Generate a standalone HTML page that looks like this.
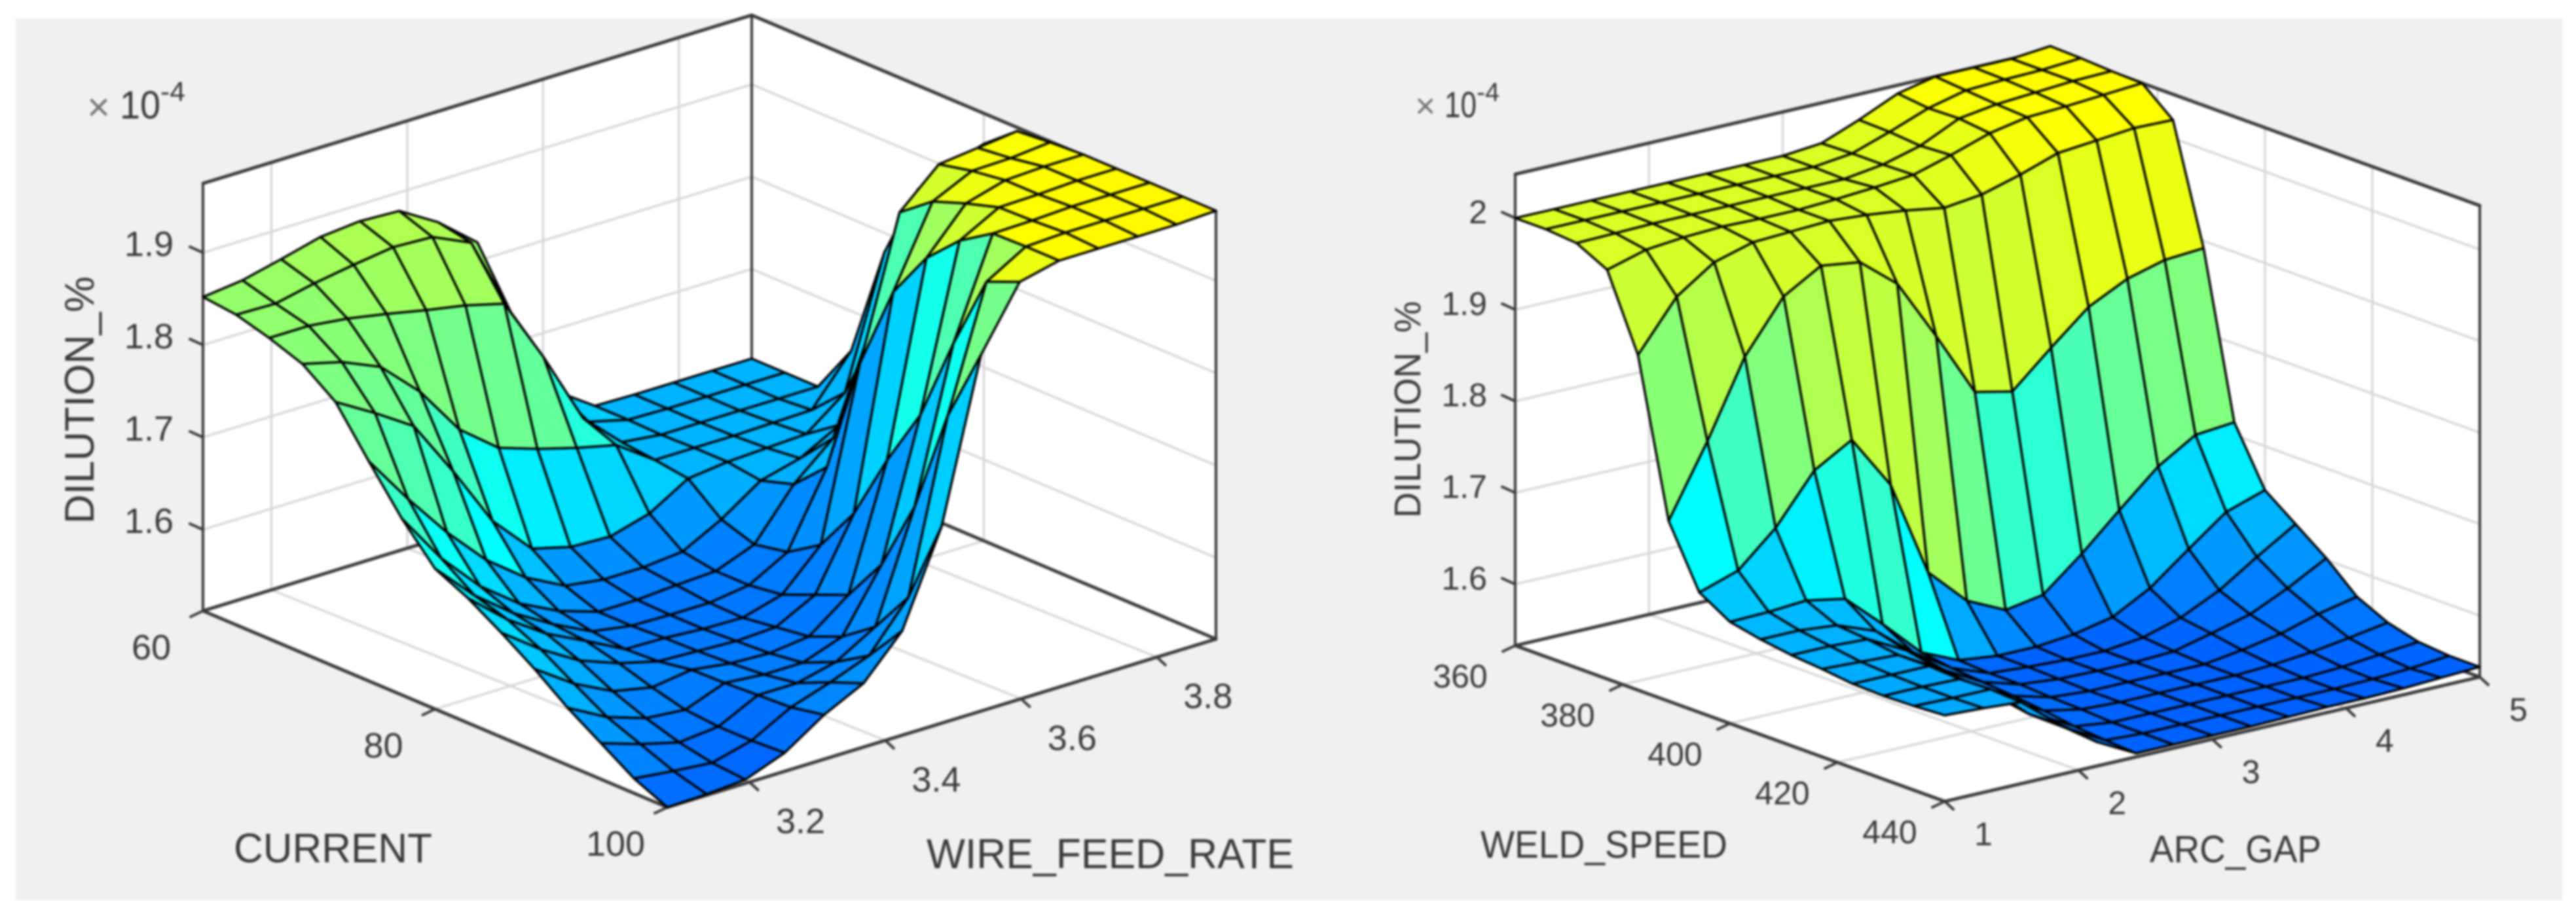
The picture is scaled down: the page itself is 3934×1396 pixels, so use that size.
<!DOCTYPE html>
<html lang="en">
<head>
<meta charset="utf-8">
<title>Dilution response surfaces</title>
<style>
html,body{margin:0;padding:0;background:#fff;width:3934px;height:1396px;overflow:hidden}
svg{display:block;filter:blur(1.5px)}
text{font-family:"Liberation Sans",sans-serif;fill:#3a3a3a}
</style>
</head>
<body>
<svg id="figure" xmlns="http://www.w3.org/2000/svg" width="3934" height="1396" viewBox="0 0 3934 1396">
  <rect x="24" y="28" width="3889" height="1347" fill="#f0f0f0"/>
  <g id="left-plot"></g>
  <g id="right-plot"></g>

  <text transform="translate(143 800) rotate(-90)" font-size="63" textLength="378" lengthAdjust="spacingAndGlyphs">DILUTION_%</text>
  <text x="357" y="1317" font-size="63" textLength="303" lengthAdjust="spacingAndGlyphs">CURRENT</text>
  <text x="1415" y="1326" font-size="64" textLength="561" lengthAdjust="spacingAndGlyphs">WIRE_FEED_RATE</text>
  <text x="133" y="184" font-size="60" style="fill:#777">×</text>
  <text x="183" y="181" font-size="60" textLength="62" lengthAdjust="spacingAndGlyphs">10</text>
  <text x="245" y="154" font-size="42" textLength="38" lengthAdjust="spacingAndGlyphs">-4</text>

  <text transform="translate(2169 791) rotate(-90)" font-size="57" textLength="331" lengthAdjust="spacingAndGlyphs">DILUTION_%</text>
  <text x="2261" y="1310" font-size="58" textLength="377" lengthAdjust="spacingAndGlyphs">WELD_SPEED</text>
  <text x="3283" y="1317" font-size="58" textLength="262" lengthAdjust="spacingAndGlyphs">ARC_GAP</text>
  <text x="2161" y="180" font-size="54" style="fill:#777">×</text>
  <text x="2206" y="179" font-size="56" textLength="49" lengthAdjust="spacingAndGlyphs">10</text>
  <text x="2255" y="154" font-size="40" textLength="35" lengthAdjust="spacingAndGlyphs">-4</text>
</svg>

<script>
/* ---------- left chart data ---------- */
const leftCurrentGrid = [60,62.86,65.71,68.57,71.43,74.29,77.14,80,82.86,85.71,88.57,91.43,94.29,97.14,100];
const leftWireGrid = [3.079,3.137,3.194,3.252,3.310,3.368,3.425,3.483,3.541,3.598,3.656,3.714,3.772,3.829,3.887];
const leftDilution = [
 [1.852,1.857,1.867,1.878,1.882,1.880,1.855,1.820,1.718,1.633,1.604,1.603,1.603,1.603,1.603],
 [1.848,1.847,1.856,1.863,1.869,1.867,1.848,1.760,1.668,1.615,1.604,1.603,1.603,1.603,1.603],
 [1.838,1.838,1.833,1.825,1.816,1.808,1.797,1.726,1.647,1.608,1.603,1.603,1.603,1.603,1.603],
 [1.825,1.814,1.796,1.756,1.702,1.669,1.655,1.643,1.633,1.604,1.604,1.604,1.605,1.606,1.657],
 [1.799,1.774,1.747,1.685,1.618,1.575,1.564,1.562,1.574,1.599,1.604,1.606,1.608,1.640,1.779],
 [1.750,1.696,1.647,1.604,1.572,1.550,1.544,1.544,1.548,1.570,1.599,1.610,1.633,1.725,1.862],
 [1.703,1.647,1.604,1.572,1.551,1.537,1.537,1.540,1.542,1.558,1.610,1.647,1.725,1.874,1.904],
 [1.664,1.622,1.590,1.565,1.544,1.537,1.536,1.536,1.542,1.565,1.644,1.768,1.886,1.920,1.942],
 [1.647,1.611,1.583,1.562,1.540,1.539,1.536,1.535,1.547,1.588,1.772,1.922,1.961,1.966,1.971],
 [1.625,1.594,1.569,1.553,1.542,1.540,1.538,1.540,1.562,1.637,1.864,1.949,1.969,1.970,1.974],
 [1.601,1.572,1.551,1.542,1.548,1.542,1.540,1.545,1.577,1.710,1.916,1.962,1.974,1.976,1.976],
 [1.574,1.551,1.537,1.533,1.549,1.545,1.545,1.560,1.625,1.774,1.950,1.973,1.974,1.976,1.976],
 [1.551,1.537,1.526,1.530,1.551,1.551,1.561,1.586,1.703,1.867,1.973,1.974,1.976,1.976,1.976],
 [1.528,1.523,1.519,1.530,1.553,1.567,1.583,1.633,1.817,1.949,1.974,1.976,1.976,1.976,1.976],
 [1.512,1.513,1.516,1.532,1.560,1.581,1.625,1.725,1.898,1.964,1.974,1.974,1.974,1.974,1.976]
];
const leftZTicks = [1.6,1.7,1.8,1.9];
const leftZLabels = ["1.6","1.7","1.8","1.9"];
const leftCurrentTicks = [60,80,100];
const leftCurrentLabels = ["60","80","100"];
const leftWireTicks = [3.2,3.4,3.6,3.8];
const leftWireLabels = ["3.2","3.4","3.6","3.8"];

/* ---------- right chart data ---------- */
const rightWeldGrid = [360,365.71,371.43,377.14,382.86,388.57,394.29,400,405.71,411.43,417.14,422.86,428.57,434.29,440];
const rightGapGrid = [1,1.29,1.57,1.86,2.14,2.43,2.71,3,3.29,3.57,3.86,4.14,4.43,4.71,5];
const rightDilution = [
 [2.000,2.000,2.000,2.000,2.000,2.000,2.000,2.000,2.004,2.020,2.039,2.048,2.048,2.048,2.052],
 [2.000,2.000,2.000,2.000,2.000,2.000,2.000,2.000,2.005,2.019,2.035,2.045,2.047,2.048,2.051],
 [1.997,1.998,1.999,1.999,1.999,1.999,1.999,1.999,2.005,2.016,2.036,2.042,2.045,2.048,2.049],
 [1.980,1.992,1.996,1.998,1.997,1.997,1.999,2.002,2.006,2.018,2.032,2.040,2.042,2.045,2.048],
 [1.899,1.953,1.981,1.993,1.995,1.997,1.994,1.989,1.982,1.987,1.999,2.013,2.017,2.021,2.020],
 [1.730,1.807,1.890,1.946,1.970,1.964,1.931,1.864,1.793,1.784,1.822,1.857,1.878,1.889,1.892],
 [1.664,1.678,1.715,1.768,1.792,1.733,1.628,1.587,1.567,1.574,1.609,1.647,1.685,1.710,1.714],
 [1.644,1.645,1.648,1.640,1.603,1.562,1.544,1.539,1.539,1.543,1.552,1.574,1.607,1.638,1.652],
 [1.637,1.637,1.633,1.617,1.584,1.557,1.542,1.539,1.537,1.537,1.542,1.554,1.574,1.601,1.627],
 [1.632,1.632,1.630,1.608,1.577,1.554,1.542,1.538,1.537,1.537,1.539,1.549,1.560,1.579,1.602],
 [1.629,1.627,1.625,1.601,1.572,1.551,1.540,1.537,1.537,1.537,1.537,1.543,1.551,1.563,1.572],
 [1.625,1.625,1.625,1.595,1.569,1.547,1.539,1.537,1.537,1.537,1.537,1.539,1.543,1.549,1.556],
 [1.624,1.624,1.623,1.593,1.565,1.542,1.537,1.537,1.537,1.537,1.537,1.537,1.539,1.543,1.547],
 [1.625,1.624,1.624,1.587,1.562,1.539,1.537,1.537,1.537,1.537,1.537,1.537,1.538,1.540,1.544],
 [1.627,1.625,1.622,1.588,1.559,1.537,1.537,1.537,1.537,1.538,1.539,1.539,1.540,1.542,1.544]
];
const rightZTicks = [1.6,1.7,1.8,1.9,2];
const rightZLabels = ["1.6","1.7","1.8","1.9","2"];
const rightWeldTicks = [360,380,400,420,440];
const rightWeldLabels = ["360","380","400","420","440"];
const rightGapTicks = [1,2,3,4,5];
const rightGapLabels = ["1","2","3","4","5"];

const SVGNS = "http://www.w3.org/2000/svg";

function jetColour(t){
  const c = v => Math.round(255*Math.max(0,Math.min(1,v)));
  const r = c(Math.min(4*t-1.5,-4*t+4.5));
  const g = c(Math.min(4*t-0.5,-4*t+3.5));
  const b = c(Math.min(4*t+0.5,-4*t+2.5));
  return "rgb("+r+","+g+","+b+")";
}

function drawPlot(root, prefix, cfg){
  /* axis functions: data -> fractions -> page pixels */
  const tx = v => (v-cfg.xMin)/(cfg.xMax-cfg.xMin);
  const ty = v => (v-cfg.yMin)/(cfg.yMax-cfg.yMin);
  const project = (fx, fy, z) => [
    cfg.A[0]+fx*(cfg.D[0]-cfg.A[0])+fy*(cfg.B[0]-cfg.A[0]),
    cfg.A[1]+fx*(cfg.D[1]-cfg.A[1])+fy*(cfg.B[1]-cfg.A[1])-(z-cfg.zFloor)*cfg.zScale
  ];
  const line = (p,q,stroke,width,name) => {
    const l = document.createElementNS(SVGNS,"line");
    l.setAttribute("x1",p[0]); l.setAttribute("y1",p[1]);
    l.setAttribute("x2",q[0]); l.setAttribute("y2",q[1]);
    l.setAttribute("stroke",stroke);
    l.setAttribute("stroke-width",width);
    l.setAttribute("stroke-linecap","round");
    
    
    root.appendChild(l);
  };
  const label = (str,x,y,anchor,name) => {
    const t = document.createElementNS(SVGNS,"text");
    t.setAttribute("x",x); t.setAttribute("y",y);
    t.setAttribute("text-anchor",anchor);
    t.setAttribute("font-size",cfg.tickFont);
    
    
    t.textContent = str;
    root.appendChild(t);
  };
  /* white walls and floor */
  const wall = (pts,name) => {
    const w = document.createElementNS(SVGNS,"polygon");
    w.setAttribute("points",pts.map(p=>p.join(",")).join(" "));
    w.setAttribute("fill","#ffffff");
    
    
    root.appendChild(w);
  };
  const zf=cfg.zFloor, zt=cfg.zTop;
  wall([project(0,0,zf),project(0,1,zf),project(0,1,zt),project(0,0,zt)],prefix+"-left-wall");
  wall([project(0,1,zf),project(1,1,zf),project(1,1,zt),project(0,1,zt)],prefix+"-back-wall");
  wall([project(0,0,zf),project(1,0,zf),project(1,1,zf),project(0,1,zf)],prefix+"-floor");

  /* grid lines */
  const grid="#d8d8d8", gw=3.5;
  cfg.zTicks.forEach(z=>{
    line(project(0,0,z),project(0,1,z),grid,gw,prefix+"-z-grid-left");
    line(project(0,1,z),project(1,1,z),grid,gw,prefix+"-z-grid-right");
  });
  cfg.xTicks.forEach(x=>{
    const f=tx(x);
    line(project(f,0,zf),project(f,1,zf),grid,gw,prefix+"-x-grid-floor");
    line(project(f,1,zf),project(f,1,zt),grid,gw,prefix+"-x-grid-wall");
  });
  cfg.yTicks.forEach(y=>{
    const f=ty(y), w=f-cfg.wallLean;
    line(project(1,f,zf),project(0,w,zf),grid,gw,prefix+"-y-grid-floor");
    line(project(0,w,zf),project(0,w,zt),grid,gw,prefix+"-y-grid-wall");
  });

  /* box edges */
  const ax="#3a3a3a";
  line(project(0,0,zf),project(0,0,zt),ax,4,prefix+"-z-axis-line");
  line(project(0,1,zf),project(0,1,zt),ax,4,prefix+"-back-edge");
  line(project(1,1,zf),project(1,1,zt),ax,4,prefix+"-right-edge");
  line(project(0,0,zt),project(0,1,zt),ax,5,prefix+"-top-edge-left");
  line(project(0,1,zt),project(1,1,zt),ax,5,prefix+"-top-edge-right");
  line(project(0,0,zf),project(0,1,zf),ax,5,prefix+"-floor-edge-left");
  line(project(0,1,zf),project(1,1,zf),ax,5,prefix+"-floor-edge-right");
  line(project(0,0,zf),project(1,0,zf),ax,5,prefix+"-x-axis-line");
  line(project(1,0,zf),project(1,1,zf),ax,5,prefix+"-y-axis-line");

  /* ticks and tick labels */
  cfg.zTicks.forEach((z,k)=>{
    const p=project(0,0,z);
    line(p,[p[0]-20,p[1]-9],ax,4,prefix+"-z-tick");
    label(cfg.zLabels[k],cfg.zLabelRight,p[1]+cfg.zLabelDy,"end",prefix+"-z-tick-label");
  });
  cfg.xTicks.forEach((x,k)=>{
    const p=project(tx(x),0,zf);
    line(p,[p[0]-19,p[1]+9],ax,4,prefix+"-x-tick");
    label(cfg.xLabels[k],p[0]+cfg.xLabelOff[0],p[1]+cfg.xLabelOff[1],"middle",prefix+"-x-tick-label");
  });
  cfg.yTicks.forEach((y,k)=>{
    const p=project(1,ty(y),zf);
    line(p,[p[0]+13,p[1]+12],ax,4,prefix+"-y-tick");
    label(cfg.yLabels[k],p[0]+cfg.yLabelOff[0],p[1]+cfg.yLabelOff[1],"middle",prefix+"-y-tick-label");
  });

  /* surface: back to front so nearer facets cover farther ones */
  const xs=cfg.xGrid, ys=cfg.yGrid, Z=cfg.values;
  const colour = z => jetColour(0.22+0.41*(z-cfg.cMin)/(cfg.cMax-cfg.cMin));
  for(let i=0;i<xs.length-1;i++){
    for(let j=ys.length-2;j>=0;j--){
      const corners=[
        project(tx(xs[i]),ty(ys[j]),Z[i][j]),
        project(tx(xs[i+1]),ty(ys[j]),Z[i+1][j]),
        project(tx(xs[i+1]),ty(ys[j+1]),Z[i+1][j+1]),
        project(tx(xs[i]),ty(ys[j+1]),Z[i][j+1])
      ];
      const cell=document.createElementNS(SVGNS,"polygon");
      cell.setAttribute("points",corners.map(p=>p[0].toFixed(1)+","+p[1].toFixed(1)).join(" "));
      cell.setAttribute("fill",colour(Z[i][j]));
      cell.setAttribute("stroke","#000");
      cell.setAttribute("stroke-width","3.5");
      cell.setAttribute("stroke-linejoin","round");
      
      
      root.appendChild(cell);
    }
  }
}

drawPlot(document.getElementById("left-plot"),"left",{
  A:[310,933],D:[1019,1233],B:[1148,676],
  zFloor:1.512,zTop:1.975,zScale:1410,
  xMin:60,xMax:100,yMin:3.079,yMax:3.887,wallLean:0.025,
  xGrid:leftCurrentGrid,yGrid:leftWireGrid,values:leftDilution,
  cMin:1.512,cMax:1.976,
  zTicks:leftZTicks,zLabels:leftZLabels,xTicks:leftCurrentTicks,xLabels:leftCurrentLabels,
  yTicks:leftWireTicks,yLabels:leftWireLabels,
  tickFont:54,zLabelRight:265,zLabelDy:5,xLabelOff:[-79,74],yLabelOff:[78,78]
});
drawPlot(document.getElementById("right-plot"),"right",{
  A:[2314,986],D:[2970,1224],B:[3131,796],
  zFloor:1.533,zTop:2.048,zScale:1398,
  xMin:360,xMax:440,yMin:1,yMax:5,wallLean:0,
  xGrid:rightWeldGrid,yGrid:rightGapGrid,values:rightDilution,
  cMin:1.537,cMax:2.05,
  zTicks:rightZTicks,zLabels:rightZLabels,xTicks:rightWeldTicks,xLabels:rightWeldLabels,
  yTicks:rightGapTicks,yLabels:rightGapLabels,
  tickFont:50,zLabelRight:2271,zLabelDy:8,xLabelOff:[-84,64],yLabelOff:[59,67]
});
</script>
</body>
</html>
